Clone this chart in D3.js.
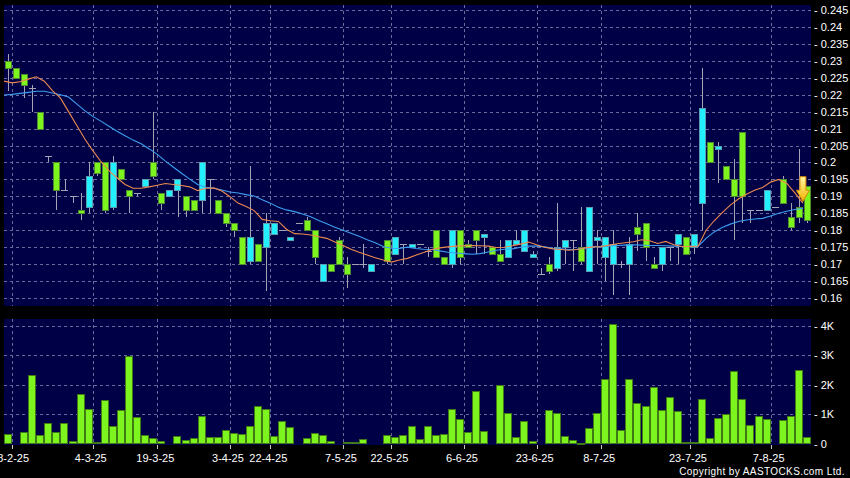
<!DOCTYPE html>
<html><head><meta charset="utf-8">
<script src="https://cdn.jsdelivr.net/npm/d3@7/dist/d3.min.js"></script>
<style>
html,body{margin:0;padding:0;background:#000;}
svg{display:block;}
text{font-family:Arial,"Liberation Sans",sans-serif;fill:#fff;}
</style></head><body>
<svg id="c" width="850" height="478"></svg>
<script>
// ---------- DATA ----------
const opens  = [0.230,0.228,0.226,0.222,0.215,0.202,0.200,0.192,0.190,0.186,
                0.187,0.200,0.200,0.187,0.198,0.192,0.191,0.193,0.200,0.191,
                0.190,0.192,0.190,0.189,0.189,0.195,0.189,0.185,0.182,0.178,
                0.171,0.176,0.175,0.179,0.180,0.177,0.182,0.183,0.180,0.165,
                0.170,0.177,0.170,0.170,0.170,0.168,null,0.177,0.173,0.176,
                0.175,0.176,0.174,0.180,0.172,0.170,0.180,0.176,0.180,0.178,
                0.175,0.173,0.172,0.176,0.174,0.172,0.167,0.170,0.169,0.175,
                0.177,0.175,0.168,0.177,0.172,0.170,0.170,0.170,0.181,0.182,
                0.170,0.170,0.175,0.176,0.178,0.175,0.188,0.206,0.204,0.199,
                0.195,0.209,0.186,0.186,0.186,0.187,0.195,0.184,0.187,0.193];
const closes = [0.228,0.225,0.223,0.222,0.210,0.202,0.192,0.192,0.190,0.185,
                0.196,0.197,0.186,0.200,0.195,0.190,0.191,0.195,0.196,0.188,
                0.192,0.195,0.186,0.186,0.200,0.195,0.185,0.182,0.180,0.170,
                0.178,0.171,0.182,0.182,0.180,0.178,0.182,0.180,0.172,0.170,
                0.168,0.170,0.167,0.170,0.170,0.170,null,0.171,0.178,0.176,
                0.176,0.176,0.174,0.172,0.170,0.180,0.172,0.175,0.177,0.179,
                0.173,0.171,0.177,0.177,0.180,0.173,0.167,0.168,0.175,0.177,
                0.177,0.171,0.187,0.178,0.178,0.176,0.170,0.176,0.179,0.175,
                0.169,0.175,0.175,0.179,0.173,0.179,0.216,0.200,0.205,0.195,
                0.190,0.190,0.186,0.186,0.192,0.187,0.188,0.181,0.184,0.183];
const highs  = [0.232,0.228,0.226,0.223,0.215,0.202,0.200,0.195,0.190,0.191,
                0.200,0.200,0.200,0.202,0.198,0.192,0.191,0.195,0.215,0.191,
                0.192,0.195,0.190,0.189,0.200,0.195,0.189,0.185,0.182,0.178,
                0.199,0.176,0.185,0.182,0.180,0.178,0.182,0.184,0.180,0.170,
                0.170,0.178,0.172,0.170,0.176,0.170,null,0.177,0.178,0.176,
                0.176,0.176,0.175,0.180,0.172,0.180,0.180,0.177,0.180,0.179,
                0.175,0.177,0.177,0.180,0.180,0.174,0.169,0.172,0.188,0.177,
                0.177,0.187,0.187,0.180,0.178,0.180,0.171,0.178,0.185,0.182,
                0.172,0.175,0.175,0.179,0.178,0.179,0.228,0.206,0.206,0.199,
                0.201,0.209,0.186,0.186,0.192,0.187,0.196,0.188,0.204,0.193];
const lows   = [0.221,0.225,0.219,0.215,0.210,0.200,0.186,0.192,0.188,0.183,
                0.185,0.196,0.185,0.186,0.195,0.185,0.190,0.193,0.195,0.186,
                0.190,0.184,0.184,0.186,0.185,0.185,0.185,0.181,0.178,0.170,
                0.170,0.171,0.162,0.179,0.180,0.177,0.182,0.180,0.170,0.165,
                0.168,0.170,0.163,0.170,0.169,0.168,null,0.170,0.173,0.170,
                0.175,0.176,0.172,0.172,0.170,0.169,0.170,0.175,0.173,0.173,
                0.173,0.171,0.172,0.176,0.174,0.172,0.167,0.167,0.168,0.170,
                0.168,0.170,0.168,0.170,0.165,0.161,0.169,0.161,0.174,0.171,
                0.169,0.168,0.171,0.170,0.173,0.173,0.180,0.200,0.194,0.195,
                0.177,0.182,0.182,0.186,0.186,0.187,0.188,0.180,0.182,0.182];
const volumes = [320,0,380,2340,290,690,400,690,80,1700,
                 1170,50,1470,590,1150,2990,910,280,180,70,
                 0,240,110,180,940,220,210,450,360,330,
                 610,1290,1160,250,780,570,0,200,360,300,
                 70,0,60,50,170,0,0,280,230,300,
                 600,140,590,300,320,1170,850,390,1790,410,
                 0,1980,1030,220,780,70,0,1150,1030,240,
                 110,30,540,1050,2180,4070,460,2180,1380,1260,
                 1920,1130,1590,1100,60,60,1530,180,860,990,
                 2460,1530,620,940,830,0,790,940,2510,230];
const maShort = [0.2240,0.2235,0.2238,0.2246,0.2253,0.2240,0.2212,0.2190,0.2150,0.2110,
                 0.2070,0.2035,0.2003,0.1976,0.1955,0.1935,0.1924,0.1924,0.1928,0.1933,
                 0.1938,0.1935,0.1932,0.1928,0.1917,0.1924,0.1925,0.1916,0.1899,0.1880,
                 0.1870,0.1858,0.1832,0.1828,0.1826,0.1803,0.1790,0.1789,0.1786,0.1781,
                 0.1776,0.1765,0.1755,0.1744,0.1735,0.1727,0.1719,0.1712,0.1706,0.1712,
                 0.1717,0.1726,0.1734,0.1743,0.1748,0.1751,0.1753,0.1754,0.1755,0.1754,
                 0.1753,0.1749,0.1750,0.1754,0.1759,0.1765,0.1757,0.1750,0.1745,0.1743,
                 0.1741,0.1743,0.1748,0.1751,0.1752,0.1756,0.1760,0.1763,0.1766,0.1772,
                 0.1769,0.1761,0.1767,0.1757,0.1752,0.1752,0.1753,0.1800,0.1828,0.1852,
                 0.1874,0.1892,0.1906,0.1918,0.1926,0.1942,0.1950,0.1938,0.1910,0.1880];
const maLong  = [0.2199,0.2201,0.2204,0.2207,0.2210,0.2210,0.2205,0.2200,0.2193,0.2173,
                 0.2153,0.2136,0.2122,0.2107,0.2092,0.2079,0.2066,0.2055,0.2040,0.2024,
                 0.2004,0.1986,0.1968,0.1951,0.1935,0.1927,0.1924,0.1919,0.1913,0.1910,
                 0.1905,0.1901,0.1890,0.1880,0.1868,0.1860,0.1855,0.1848,0.1840,0.1829,
                 0.1819,0.1809,0.1800,0.1791,0.1782,0.1772,0.1763,0.1752,0.1747,0.1746,
                 0.1750,0.1746,0.1744,0.1743,0.1739,0.1735,0.1733,0.1731,0.1729,0.1731,
                 0.1736,0.1741,0.1744,0.1745,0.1750,0.1753,0.1753,0.1751,0.1747,0.1745,
                 0.1743,0.1744,0.1747,0.1751,0.1752,0.1753,0.1755,0.1756,0.1757,0.1756,
                 0.1755,0.1755,0.1754,0.1753,0.1752,0.1752,0.1752,0.1776,0.1795,0.1808,
                 0.1818,0.1826,0.1830,0.1833,0.1835,0.1842,0.1850,0.1856,0.1861,0.1865];
const dateTickIndex  = [1,11,19,28,33,42,48,57,66,74,85,95];
const dateTickLabels = ["18-2-25","4-3-25","19-3-25","3-4-25","22-4-25","7-5-25","22-5-25","6-6-25","23-6-25","8-7-25","23-7-25","7-8-25"];
const priceTicks  = [0.16,0.165,0.17,0.175,0.18,0.185,0.19,0.195,0.2,0.205,0.21,0.215,0.22,0.225,0.23,0.235,0.24,0.245];
const volumeTicks = [0,1000,2000,3000,4000];
const signalIndex = 99;

// ---------- LAYOUT ----------
const W = 850, H = 478;
const plotL = 4, plotR = 811;
const pTop = 5, pBot = 306;
const vTop = 319, vBot = 445;
const NAVY = "#000046", GRID = "#6a6a9c";
const GREEN = "#7ef41e", GREEN_S = "#4e8a32";
const CYAN = "#22f0ff", CYAN_S = "#5a9cb0";
const WICK = "#a4a4b4";

const svg = d3.select("#c");
svg.append("rect").attr("width", W).attr("height", H).attr("fill", "#000");

const n = opens.length;
const x = d3.scaleBand().domain(d3.range(n)).range([plotL, plotR]).padding(0);
const bw = x.bandwidth();
const y = d3.scaleLinear().domain([0.16, 0.245]).range([298, 10]);
const yv = d3.scaleLinear().domain([0, 4000]).range([443.5, 326]);

const defs = svg.append("defs");
defs.append("clipPath").attr("id", "clipP").append("rect")
  .attr("x", plotL).attr("y", pTop).attr("width", plotR - plotL).attr("height", pBot - pTop);
defs.append("clipPath").attr("id", "clipV").append("rect")
  .attr("x", plotL).attr("y", vTop).attr("width", plotR - plotL).attr("height", vBot - vTop);
const grad = defs.append("linearGradient").attr("id", "arrowGrad")
  .attr("x1", 0).attr("y1", 0).attr("x2", 0).attr("y2", 1);
grad.append("stop").attr("offset", "0%").attr("stop-color", "#fff7a0");
grad.append("stop").attr("offset", "100%").attr("stop-color", "#f4b400");

// panels
svg.append("rect").attr("x", plotL).attr("y", pTop).attr("width", plotR - plotL).attr("height", pBot - pTop).attr("fill", NAVY);
svg.append("rect").attr("x", plotL).attr("y", vTop).attr("width", plotR - plotL).attr("height", vBot - vTop).attr("fill", NAVY);

// grids
const gridP = svg.append("g").attr("stroke", GRID).attr("stroke-dasharray", "3,3").attr("shape-rendering", "crispEdges");
priceTicks.forEach(t => gridP.append("line").attr("x1", plotL).attr("x2", plotR)
  .attr("y1", Math.round(y(t)) + 0.5).attr("y2", Math.round(y(t)) + 0.5));
dateTickIndex.forEach(i => {
  const xx = Math.round(x(i)) + 0.5;
  gridP.append("line").attr("x1", xx).attr("x2", xx).attr("y1", pTop).attr("y2", pBot);
  gridP.append("line").attr("x1", xx).attr("x2", xx).attr("y1", vTop).attr("y2", vBot);
});
volumeTicks.filter(t => t > 0).forEach(t => gridP.append("line").attr("x1", plotL).attr("x2", plotR)
  .attr("y1", Math.round(yv(t)) + 0.5).attr("y2", Math.round(yv(t)) + 0.5));

// candles
const idx = d3.range(n).filter(i => opens[i] !== null);
const cg = svg.append("g").attr("clip-path", "url(#clipP)").attr("shape-rendering", "crispEdges");
idx.forEach(i => {
  const cx = Math.round(x(i) + bw / 2) + 0.5;
  const x0 = Math.round(x(i)) + 1.5;
  const o = opens[i], c = closes[i];
  cg.append("line").attr("x1", cx).attr("x2", cx)
    .attr("y1", y(highs[i])).attr("y2", y(lows[i])).attr("stroke", WICK);
  if (o === c) {
    cg.append("line").attr("x1", x0 - 0.5).attr("x2", x0 + bw - 1.5)
      .attr("y1", Math.round(y(o)) + 0.5).attr("y2", Math.round(y(o)) + 0.5).attr("stroke", WICK);
  } else {
    const up = c > o;
    const top = Math.round(y(Math.max(o, c))) + 0.5;
    const bot = Math.round(y(Math.min(o, c))) + 0.5;
    cg.append("rect").attr("x", x0).attr("y", top).attr("width", bw - 2.5)
      .attr("height", Math.max(1, bot - top))
      .attr("fill", up ? CYAN : GREEN).attr("stroke", up ? CYAN_S : GREEN_S);
  }
});

// moving averages
const lineGen = arr => d3.line().defined(i => arr[i] !== null).x(i => x(i)).y(i => y(arr[i]))(d3.range(n));
const mg = svg.append("g").attr("clip-path", "url(#clipP)").attr("fill", "none").attr("stroke-width", 1.1);
mg.append("path").attr("d", lineGen(maLong)).attr("stroke", "#3d9ef0");
mg.append("path").attr("d", lineGen(maShort)).attr("stroke", "#ec8a4e");

// signal arrow
const ax = x(signalIndex), aTop = y(0.1958), aBot = y(0.1885), aMid = y(0.1918);
svg.append("path")
  .attr("d", `M${ax-3},${aTop} L${ax+3},${aTop} L${ax+3},${aMid} L${ax+6.5},${aMid} L${ax},${aBot} L${ax-6.5},${aMid} L${ax-3},${aMid} Z`)
  .attr("fill", "url(#arrowGrad)").attr("stroke", "#d98a00").attr("stroke-width", 1);

// volume bars
const vg = svg.append("g").attr("clip-path", "url(#clipV)").attr("shape-rendering", "crispEdges");
d3.range(n).filter(i => volumes[i] > 0).forEach(i => {
  const top = Math.round(yv(volumes[i])) + 0.5;
  vg.append("rect").attr("x", Math.round(x(i)) + 0.5).attr("y", top)
    .attr("width", bw - 1.2).attr("height", Math.max(0.5, 443.5 - top))
    .attr("fill", GREEN).attr("stroke", "#3f7a16");
});

// axis labels (right)
const fmtP = d3.format(".3~f");
priceTicks.forEach(t => svg.append("text").attr("x", 814).attr("y", y(t) + 4)
  .attr("font-size", 11).text("- " + fmtP(t)));
const fmtV = v => v === 0 ? "0" : (v / 1000) + "K";
volumeTicks.forEach(t => svg.append("text").attr("x", 814).attr("y", yv(t) + 4)
  .attr("font-size", 11).text("- " + fmtV(t)));

// date axis
const tg = svg.append("g");
dateTickIndex.forEach((i, k) => {
  const xx = Math.round(x(i)) + 0.5;
  tg.append("line").attr("x1", xx).attr("x2", xx).attr("y1", 445).attr("y2", 449)
    .attr("stroke", "#c8c8c8").attr("shape-rendering", "crispEdges");
  tg.append("text").attr("x", x(i) - 2).attr("y", 462).attr("font-size", 11)
    .attr("text-anchor", "middle").text(dateTickLabels[k]);
});

svg.append("text").attr("x", 845).attr("y", 475).attr("font-size", 10)
  .attr("text-anchor", "end").attr("letter-spacing", "0.4").text("Copyright by AASTOCKS.com Ltd.");
</script>
</body></html>
